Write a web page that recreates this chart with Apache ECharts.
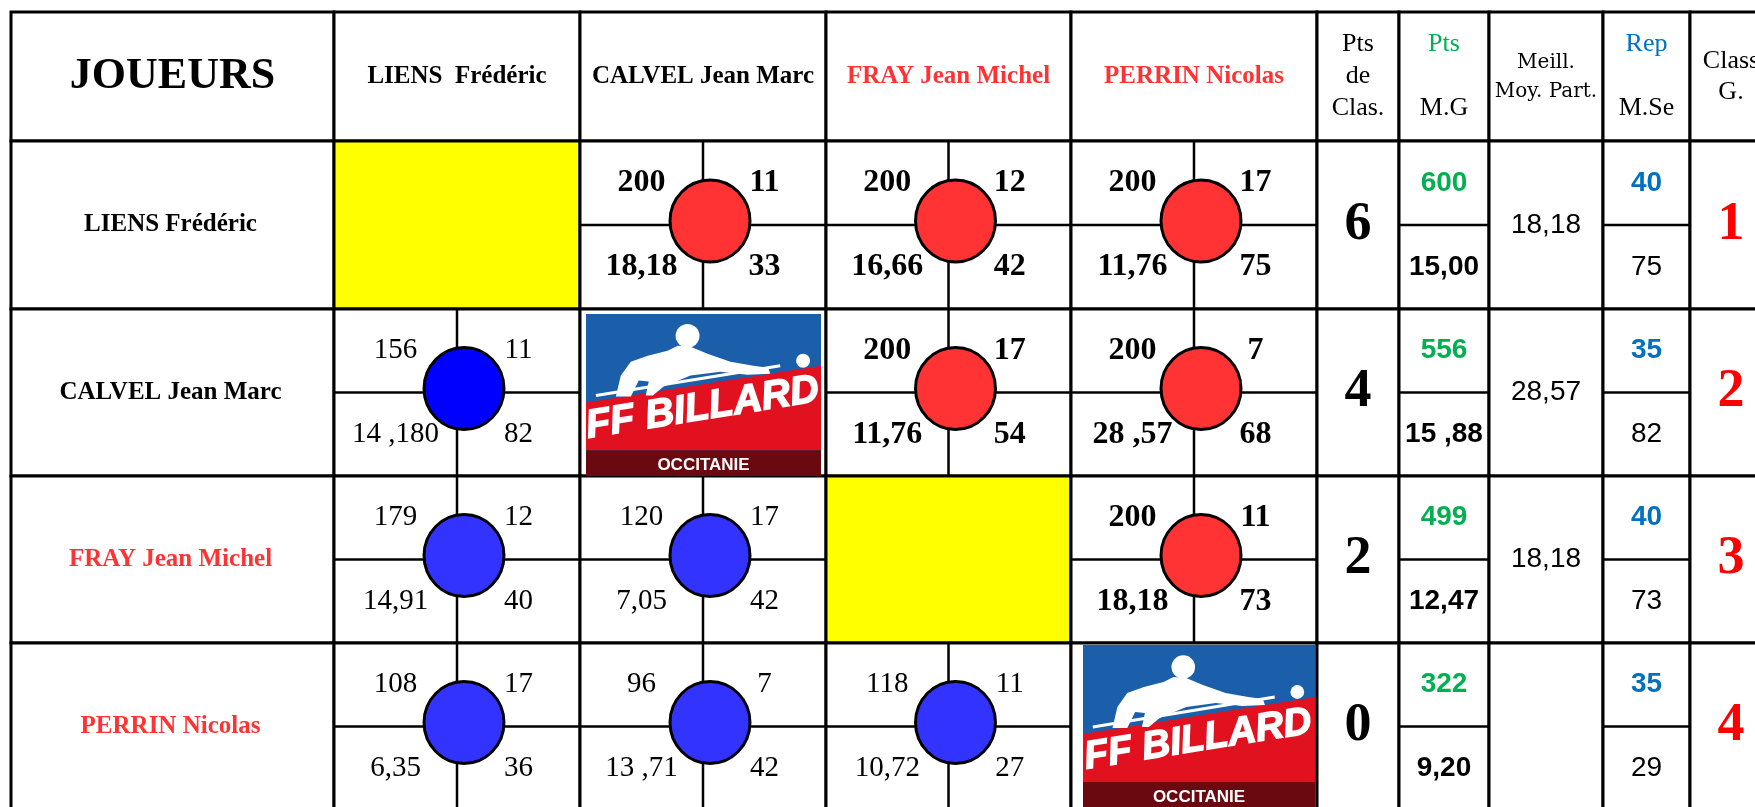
<!DOCTYPE html>
<html><head><meta charset="utf-8">
<script src="https://cdn.jsdelivr.net/npm/echarts@6/dist/echarts.min.js"></script>
<style>html,body{margin:0;padding:0;background:#fff}#c{width:1755px;height:807px}</style>
</head><body><div id="c"></div>
<script>
// ================= DATA =================
const cornerTitle = 'JOUEURS';
const players = ['LIENS Frédéric', 'CALVEL Jean Marc', 'FRAY Jean Michel', 'PERRIN Nicolas'];
const headerPlayers = ['LIENS  Frédéric', 'CALVEL Jean Marc', 'FRAY Jean Michel', 'PERRIN Nicolas'];
const hdrPtsClas = ['Pts', 'de', 'Clas.'];
const hdrPtsMG = ['Pts', 'M.G'];
const hdrMeill = ['Meill.', 'Moy. Part.'];
const hdrRep = ['Rep', 'M.Se'];
const hdrClassG = ['Class', 'G.'];

// match cells: row player vs column player
const matchPoints   = [[null,'200','200','200'],['156',null,'200','200'],['179','120',null,'200'],['108','96','118',null]];
const matchReprises = [[null,'11','12','17'],['11',null,'17','7'],['12','17',null,'11'],['17','7','11',null]];
const matchMoyenne  = [[null,'18,18','16,66','11,76'],['14 ,180',null,'11,76','28 ,57'],['14,91','7,05',null,'18,18'],['6,35','13 ,71','10,72',null]];
const matchSerie    = [[null,'33','42','75'],['82',null,'54','68'],['40','42',null,'73'],['36','42','27',null]];
const matchWon      = [[null,1,1,1],[0,null,1,1],[0,0,null,1],[0,0,0,null]];
const diagonalMark  = ['empty','logo','empty','logo'];

const ptsClassement = ['6','4','2','0'];
const ptsTotal      = ['600','556','499','322'];
const moyGenerale   = ['15,00','15 ,88','12,47','9,20'];
const meillMoyPart  = ['18,18','28,57','18,18',''];
const repTotal      = ['40','35','40','35'];
const meillSerie    = ['75','82','73','29'];
const classementG   = ['1','2','3','4'];

// ================= LAYOUT / STYLE =================
const L = {
  colX: [11, 334, 580, 826, 1071, 1317, 1399, 1489, 1603, 1690, 1772],
  rowY: [12, 141, 309, 476, 643, 810],
  logoInset: { 1: [6, 5, 5, 0], 3: [12, 2, 2, 2] }, // left, top, right, bottom
  circleDx: 7, circleDy: -4
};
const NAME_COLORS = ['#000000', '#000000', '#FF3333', '#FF3333'];
const RED_CIRCLE = '#FF3333', BLUE_CIRCLE = '#3333FF';
const CIRCLE_OVERRIDE = { '1,0': '#0000FF' };
const SERIF = '"Liberation Serif", "Times New Roman", serif';
const SANS = '"Liberation Sans", Arial, sans-serif';
const F = {
  title: 'bold 44px ' + SERIF,
  name: 'bold 25px ' + SERIF,
  hdr: '26px ' + SERIF,
  hdrSmall: '20px "DejaVu Serif", serif',
  numB: 'bold 32px ' + SERIF,
  numR: '29px ' + SERIF,
  big: 'bold 54px ' + SERIF,
  sansB: 'bold 28px ' + SANS,
  sansR: '28px ' + SANS
};

const cx = c => (L.colX[c] + L.colX[c + 1]) / 2;
const cy = r => (L.rowY[r] + L.rowY[r + 1]) / 2;
const qL = c => (L.colX[c] + cx(c)) / 2;
const qR = c => (cx(c) + L.colX[c + 1]) / 2;
const qT = r => (L.rowY[r] + cy(r)) / 2;
const qB = r => (cy(r) + L.rowY[r + 1]) / 2;

// ---------- grid cells ----------
const gridCells = [];
for (let R = 0; R < 5; R++) {
  for (let C = 0; C < 10; C++) {
    const cell = { C, R, fill: '#fff', vmid: false, hmid: false };
    if (R > 0) {
      const pr = R - 1;
      if (C >= 1 && C <= 4) {
        const pc = C - 1;
        if (pr === pc) { if (diagonalMark[pr] === 'empty') cell.fill = '#FFFF00'; }
        else { cell.vmid = true; cell.hmid = true; }
      }
      if (C === 6 || C === 8) cell.hmid = true;
    }
    gridCells.push(cell);
  }
}

// ---------- labels ----------
const labels = [];
function add(x, y, text, font, color) { if (text !== '' && text != null) labels.push({ value: [x, y], text, font, color: color || '#000' }); }
const hy = cy(0);
add(cx(0), hy, cornerTitle, F.title);
headerPlayers.forEach((n, i) => add(cx(i + 1), hy, n, F.name, NAME_COLORS[i]));
add(cx(5), hy - 32, hdrPtsClas[0], F.hdr); add(cx(5), hy, hdrPtsClas[1], F.hdr); add(cx(5), hy + 32, hdrPtsClas[2], F.hdr);
add(cx(6), hy - 32, hdrPtsMG[0], F.hdr, '#00B050'); add(cx(6), hy + 32, hdrPtsMG[1], F.hdr);
add(cx(7), hy - 14, hdrMeill[0], F.hdrSmall); add(cx(7), hy + 15, hdrMeill[1], F.hdrSmall);
add(cx(8), hy - 32, hdrRep[0], F.hdr, '#0070C0'); add(cx(8), hy + 32, hdrRep[1], F.hdr);
add(cx(9), hy - 15, hdrClassG[0], F.hdr); add(cx(9), hy + 16, hdrClassG[1], F.hdr);

for (let r = 0; r < 4; r++) {
  const R = r + 1;
  add(cx(0) - 2, cy(R), players[r], F.name, NAME_COLORS[r]);
  for (let c = 0; c < 4; c++) {
    if (r === c) continue;
    const C = c + 1, f = matchWon[r][c] ? F.numB : F.numR;
    add(qL(C), qT(R), matchPoints[r][c], f);
    add(qR(C), qT(R), matchReprises[r][c], f);
    add(qL(C), qB(R), matchMoyenne[r][c], f);
    add(qR(C), qB(R), matchSerie[r][c], f);
  }
  add(cx(5), cy(R), ptsClassement[r], F.big);
  add(cx(6), qT(R), ptsTotal[r], F.sansB, '#00B050');
  add(cx(6), qB(R), moyGenerale[r], F.sansB);
  add(cx(7), cy(R), meillMoyPart[r], F.sansR);
  add(cx(8), qT(R), repTotal[r], F.sansB, '#0070C0');
  add(cx(8), qB(R), meillSerie[r], F.sansR);
  add(cx(9), cy(R), classementG[r], F.big, '#FF0000');
}

// ---------- circles ----------
const circleData = [];
for (let r = 0; r < 4; r++) for (let c = 0; c < 4; c++) {
  if (matchWon[r][c] === null) continue;
  const col = matchWon[r][c] ? RED_CIRCLE : (CIRCLE_OVERRIDE[r + ',' + c] || BLUE_CIRCLE);
  circleData.push({ value: [cx(c + 1) + L.circleDx, cy(r + 1) + L.circleDy], itemStyle: { color: col } });
}

// ---------- logos ----------
const logoItems = [];
diagonalMark.forEach((m, r) => {
  if (m !== 'logo') return;
  const C = r + 1, R = r + 1, ins = L.logoInset[r];
  logoItems.push({ value: [L.colX[C] + ins[0], L.rowY[R] + ins[1], L.colX[C + 1] - ins[2], L.rowY[R + 1] - ins[3]] });
});
const LOGO_BODY = [[30,83],[35,62],[45,48],[62,42],[82,37],[92,32],[105,33],[122,40],[145,48],[168,52],[183,54],[185,60],[162,61],[135,58],[105,62],[78,73],[67,82],[60,82],[63,68],[53,67],[45,83]];

// ================= CHART =================
const chart = echarts.init(document.getElementById('c'), null, { renderer: 'canvas' });
chart.setOption({
  animation: false,
  backgroundColor: '#ffffff',
  grid: { left: 0, right: 0, top: 0, bottom: 0 },
  xAxis: { type: 'value', min: 0, max: 1755, show: false },
  yAxis: { type: 'value', min: 0, max: 807, inverse: true, show: false },
  series: [
    {
      type: 'custom', z: 1, silent: true,
      data: gridCells.map(g => [g.C, g.R]),
      renderItem: function (params, api) {
        const g = gridCells[params.dataIndex];
        const p0 = api.coord([L.colX[g.C], L.rowY[g.R]]);
        const p1 = api.coord([L.colX[g.C + 1], L.rowY[g.R + 1]]);
        const w = p1[0] - p0[0], h = p1[1] - p0[1];
        const ch = [{ type: 'rect', shape: { x: p0[0], y: p0[1], width: w, height: h }, style: { fill: g.fill, stroke: '#000', lineWidth: 3 } }];
        if (g.vmid) { const x = p0[0] + w / 2; ch.push({ type: 'line', shape: { x1: x, y1: p0[1], x2: x, y2: p1[1] }, style: { stroke: '#000', lineWidth: 2.5 } }); }
        if (g.hmid) { const y = p0[1] + h / 2; ch.push({ type: 'line', shape: { x1: p0[0], y1: y, x2: p1[0], y2: y }, style: { stroke: '#000', lineWidth: 2.5 } }); }
        return { type: 'group', children: ch };
      }
    },
    {
      type: 'custom', z: 2, silent: true,
      data: logoItems,
      renderItem: function (params, api) {
        const d = logoItems[params.dataIndex].value;
        const p0 = api.coord([d[0], d[1]]), p1 = api.coord([d[2], d[3]]);
        const W = p1[0] - p0[0], H = p1[1] - p0[1];
        const sx = W / 236, sy = H / 163;
        const P = (x, y) => [p0[0] + x * sx, p0[1] + y * sy];
        const head = P(102, 22), ball = P(218, 47), c1 = P(10, 82), c2 = P(195, 52), t1 = P(117, 95), t2 = P(118, 152);
        return {
          type: 'group', children: [
            { type: 'rect', shape: { x: p0[0], y: p0[1], width: W, height: H }, style: { fill: '#1B5FAA' } },
            { type: 'polygon', shape: { points: [P(0, 89), P(236, 52), P(236, 137), P(0, 137)] }, style: { fill: '#E2111F' } },
            { type: 'rect', shape: { x: p0[0], y: P(0, 137)[1], width: W, height: H - 137 * sy }, style: { fill: '#6B0910' } },
            { type: 'line', shape: { x1: c1[0], y1: c1[1], x2: c2[0], y2: c2[1] }, style: { stroke: '#fff', lineWidth: 3 } },
            { type: 'polygon', shape: { points: LOGO_BODY.map(q => P(q[0], q[1])) }, style: { fill: '#fff' } },
            { type: 'circle', shape: { cx: head[0], cy: head[1], r: 12 * sx }, style: { fill: '#fff' } },
            { type: 'circle', shape: { cx: ball[0], cy: ball[1], r: 7 * sx }, style: { fill: '#fff' } },
            { type: 'text', x: t1[0], y: t1[1], rotation: 9.1 * Math.PI / 180,
              style: { text: 'FF BILLARD', x: 0, y: 0, font: 'italic bold ' + Math.round(40 * sx) + 'px ' + SANS, fill: '#fff', stroke: '#fff', lineWidth: 1.5, align: 'center', verticalAlign: 'middle', textAlign: 'center', textVerticalAlign: 'middle' } },
            { type: 'text', x: t2[0], y: t2[1],
              style: { text: 'OCCITANIE', x: 0, y: 0, font: 'bold 17px ' + SANS, fill: '#fff', align: 'center', verticalAlign: 'middle', textAlign: 'center', textVerticalAlign: 'middle' } }
          ]
        };
      }
    },
    {
      type: 'scatter', z: 3, silent: true,
      symbol: 'circle', symbolSize: [80, 82],
      itemStyle: { borderColor: '#000', borderWidth: 3, opacity: 1 },
      emphasis: { disabled: true },
      data: circleData
    },
    {
      type: 'custom', z: 4, silent: true,
      data: labels.map(l => l.value),
      renderItem: function (params, api) {
        const l = labels[params.dataIndex];
        const p = api.coord(l.value);
        return { type: 'text', x: p[0], y: p[1],
          style: { text: l.text, x: 0, y: 0, font: l.font, fill: l.color, align: 'center', verticalAlign: 'middle', textAlign: 'center', textVerticalAlign: 'middle' } };
      }
    }
  ]
});
</script>
</body></html>
